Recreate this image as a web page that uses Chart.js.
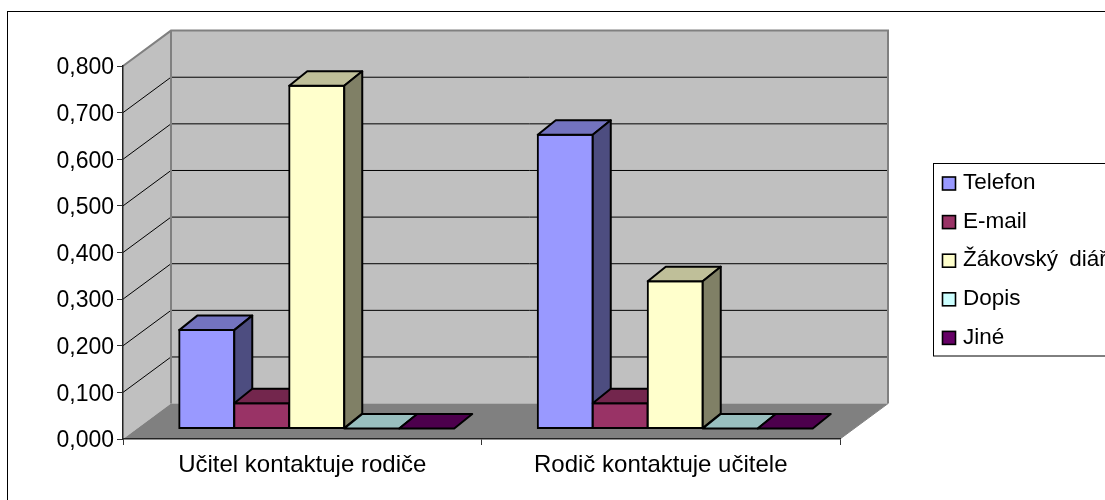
<!DOCTYPE html>
<html lang="en">
<head>
  <meta charset="UTF-8" />
  <title>Kontakt učitel a rodič</title>
  <script src="https://cdn.jsdelivr.net/npm/chart.js"></script>
  <style>
    html, body { margin: 0; padding: 0; background: #fff; overflow: hidden; }
    #wrap { position: relative; width: 1105px; height: 500px; }
  </style>
</head>
<body>
  <div id="wrap"><canvas id="chart"></canvas></div>

  <script>
    const categories = ["Učitel kontaktuje rodiče", "Rodič kontaktuje učitele"];
    const telefon = [0.211, 0.63];
    const email = [0.054, 0.054];
    const diar = [0.735, 0.316];
    const dopis = [0, 0];
    const jine = [0, 0];
    const seriesNames = ["Telefon", "E-mail", "Žákovský diář", "Dopis", "Jiné"];
    const seriesColors = ["#9999ff", "#993366", "#ffffcc", "#ccffff", "#660066"];
    const yTicks = [0, 0.1, 0.2, 0.3, 0.4, 0.5, 0.6, 0.7, 0.8];

    const FONT = "'Liberation Sans', Arial, sans-serif";
    // depth of the fake 3D box and of the bars inside it
    const wallDx = 48, wallDy = -35.4;
    const barShiftX = 14.5, barShiftY = -10.5;
    const barDx = 18, barDy = -14.5;

    function shade(hex, k) {
      const n = parseInt(hex.slice(1), 16);
      const r = Math.round((n >> 16 & 255) * k);
      const g = Math.round((n >> 8 & 255) * k);
      const b = Math.round((n & 255) * k);
      return `rgb(${r},${g},${b})`;
    }

    function poly(ctx, pts, fill, stroke, width) {
      ctx.beginPath();
      pts.forEach(([x, y], i) => i ? ctx.lineTo(x, y) : ctx.moveTo(x, y));
      ctx.closePath();
      if (fill) { ctx.fillStyle = fill; ctx.fill(); }
      if (stroke) { ctx.strokeStyle = stroke; ctx.lineWidth = width; ctx.lineJoin = "round"; ctx.stroke(); }
    }

    const box3d = {
      id: "box3d",
      beforeDraw(chart) {
        const { ctx, chartArea: a, scales: { y } } = chart;
        ctx.save();
        // outer frame, open at the bottom and right like the cropped original
        ctx.strokeStyle = "#000";
        ctx.lineWidth = 1;
        ctx.strokeRect(7.5, 11.5, 1200, 600);
        // walls and floor
        const l = a.left, r = a.right, t = a.top, b = a.bottom;
        poly(ctx, [[l, t], [l + wallDx, t + wallDy], [l + wallDx, b + wallDy], [l, b]], "#c0c0c0");
        poly(ctx, [[l + wallDx, t + wallDy], [r + wallDx, t + wallDy], [r + wallDx, b + wallDy], [l + wallDx, b + wallDy]], "#c0c0c0");
        poly(ctx, [[l, b], [l + wallDx, b + wallDy], [r + wallDx, b + wallDy], [r, b]], "#808080");
        // grid lines run along the side wall and then the back wall
        yTicks.forEach(v => {
          if (v === 0 || v === 0.8) return;
          const py = y.getPixelForValue(v);
          ctx.beginPath();
          ctx.moveTo(l, py);
          ctx.lineTo(l + wallDx, py + wallDy);
          ctx.lineTo(r + wallDx, py + wallDy);
          ctx.strokeStyle = "#000";
          ctx.lineWidth = 1;
          ctx.stroke();
        });
        // wall edges
        ctx.beginPath();
        ctx.moveTo(l, t);
        ctx.lineTo(l + wallDx, t + wallDy);
        ctx.lineTo(r + wallDx, t + wallDy);
        ctx.lineTo(r + wallDx, b + wallDy);
        ctx.moveTo(l + wallDx, t + wallDy);
        ctx.lineTo(l + wallDx, b + wallDy);
        ctx.strokeStyle = "#808080";
        ctx.lineWidth = 2;
        ctx.stroke();
        ctx.beginPath();
        ctx.moveTo(r, b);
        ctx.lineTo(r + wallDx, b + wallDy);
        ctx.strokeStyle = "#808080";
        ctx.lineWidth = 1;
        ctx.stroke();
        ctx.restore();
      },
      // chart.js paints the last dataset first, the depth needs it the other way round
      beforeDatasetsDraw(chart) {
        const { ctx } = chart;
        ctx.save();
        ctx.translate(barShiftX, barShiftY);
        chart.data.datasets.forEach((ds, i) => {
          const meta = chart.getDatasetMeta(i);
          meta.controller.draw();
          meta.data.forEach(bar => {
            const x0 = bar.x - bar.width / 2, x1 = bar.x + bar.width / 2;
            const top = bar.y, base = bar.base;
            poly(ctx, [[x0, top], [x0 + barDx, top + barDy], [x1 + barDx, top + barDy], [x1, top]], shade(seriesColors[i], 0.75), "#000", 2);
            if (base - top > 1) {
              poly(ctx, [[x1, top], [x1 + barDx, top + barDy], [x1 + barDx, base + barDy], [x1, base]], shade(seriesColors[i], 0.5), "#000", 2);
            }
          });
        });
        ctx.restore();
        return false;
      },
      afterDraw(chart) {
        const { ctx } = chart;
        ctx.save();
        ctx.fillStyle = "#fff";
        ctx.strokeStyle = "#000";
        ctx.lineWidth = 1;
        ctx.fillRect(933.5, 163.5, 300, 192.5);
        ctx.strokeRect(933.5, 163.5, 300, 192.5);
        ctx.font = "22.5px " + FONT;
        ctx.wordSpacing = "5px";
        ctx.textBaseline = "middle";
        chart.data.datasets.forEach((ds, i) => {
          const ly = 183 + i * 38.6;
          ctx.fillStyle = ds.backgroundColor;
          ctx.lineWidth = 1.6;
          ctx.fillRect(942.5, ly - 6, 13, 13);
          ctx.strokeRect(942.5, ly - 6, 13, 13);
          ctx.fillStyle = "#000";
          ctx.fillText(ds.label, 963, ly);
        });
        ctx.restore();
      }
    };

    new Chart(document.getElementById("chart"), {
      type: "bar",
      data: {
        labels: categories,
        datasets: [telefon, email, diar, dopis, jine].map((data, i) => ({
          label: seriesNames[i],
          data,
          backgroundColor: seriesColors[i],
          borderColor: "#000",
          borderWidth: 2,
          borderSkipped: false,
          inflateAmount: 1,
          clip: false
        }))
      },
      options: {
        responsive: true,
        maintainAspectRatio: false,
        animation: false,
        events: [],
        layout: { padding: { left: 0, top: 66, right: 265, bottom: 0 } },
        plugins: { legend: { display: false }, tooltip: { enabled: false } },
        categoryPercentage: 0.767,
        barPercentage: 1,
        scales: {
          x: {
            grid: { drawOnChartArea: false, color: "#333", tickLength: 6 },
            border: { color: "#222", width: 1.5 },
            ticks: { color: "#000", font: { family: FONT, size: 24 }, padding: 6, maxRotation: 0 },
            afterFit(axis) { axis.height = 61; }
          },
          y: {
            min: 0,
            max: 0.8,
            grid: { drawOnChartArea: false, color: "#333", tickLength: 6 },
            border: { color: "#222", width: 1.5 },
            afterBuildTicks(axis) { axis.ticks = yTicks.map(value => ({ value })); },
            ticks: {
              color: "#000",
              font: { family: FONT, size: 23 },
              padding: 3,
              labelOffset: 2,
              callback: v => v.toFixed(3).replace(".", ",")
            },
            afterFit(axis) { axis.width = 123; }
          }
        }
      },
      plugins: [box3d]
    });
  </script>
</body>
</html>
